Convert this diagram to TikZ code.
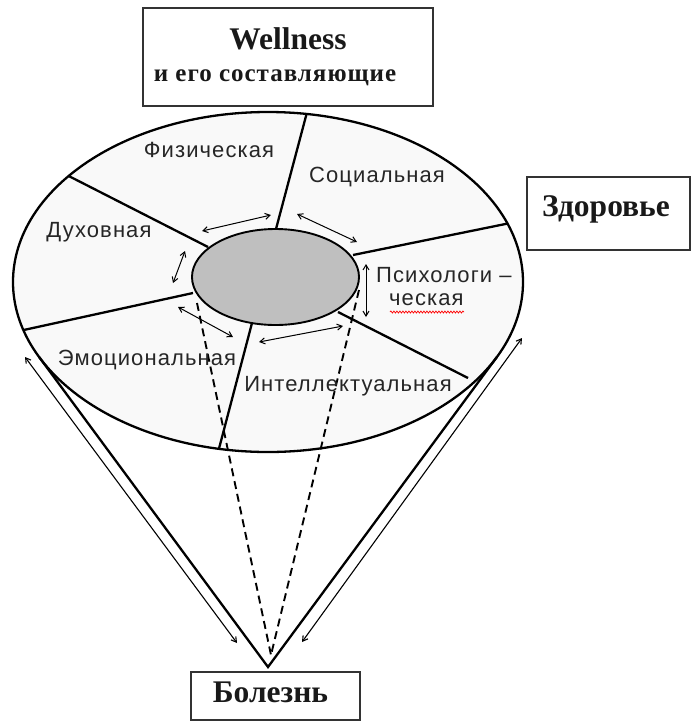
\documentclass[tikz,border=0pt]{standalone}
\usepackage{fontspec}
\setmainfont{Liberation Serif}
\setsansfont{Liberation Sans}[LetterSpace=5]
\usetikzlibrary{shapes.geometric,arrows.meta,decorations.pathmorphing}
\begin{document}
\begin{tikzpicture}[x=1pt,y=-1pt,
  lbl/.style={font=\sffamily\fontsize{22}{22}\selectfont, text=black!85, inner sep=0pt},
  boxed/.style={draw=black!80, line width=1.8pt, fill=white, inner sep=0pt},
  boxtext/.style={font=\bfseries\fontsize{31.5}{31.5}\selectfont, text=black!90, inner sep=0pt},
  divline/.style={line width=2.3pt},
  tip/.tip={Straight Barb[length=5pt,width=6pt]},
  link/.style={line width=1pt, tip-tip},
  longlink/.style={line width=1.1pt, tip-tip},
  dashline/.style={line width=1.9pt, dash pattern=on 8pt off 5pt},
]
\useasboundingbox (0,0) rectangle (691,721);

% boxes
\node[boxed, minimum width=290pt, minimum height=98pt] (topbox) at (288,57) {};
\node[boxtext] (wl) at (288,39) {Wellness};
\node[boxtext, font=\bfseries\fontsize{25}{25}\selectfont\addfontfeature{LetterSpace=4}] (comp) at (275,78) {и его составляющие};
\node[boxed, minimum width=163pt, minimum height=73pt] (hbox) at (608.5,213.5) {};
\node[boxtext] (health) at (606,209) {Здоровье};
\node[boxed, minimum width=169pt, minimum height=48pt] (ibox) at (275.5,696) {};
\node[boxtext] (illness) at (270.5,692) {Болезнь};

% outer ellipse
\node[ellipse, draw, line width=2.3pt, fill=gray!5, minimum width=510pt, minimum height=340pt, inner sep=0pt] (outer) at (268,282) {};

% radial dividers
\coordinate (i1) at (276,229); \coordinate (o1) at (310,101);
\coordinate (i2) at (208,247); \coordinate (o2) at (55,169);
\coordinate (i3) at (193,293); \coordinate (o3) at (10,333);
\coordinate (i4) at (252,323); \coordinate (o4) at (216,460);
\coordinate (i5) at (338,312); \coordinate (o5) at (468,378);
\coordinate (i6) at (353,255); \coordinate (o6) at (530,219);
\begin{scope}
\clip (268,282) ellipse [x radius=255, y radius=170];
\foreach \k in {1,...,6} \draw[divline] (i\k) -- (o\k);
\end{scope}

% cone
\coordinate (apex) at (268,667);
\coordinate (dapex) at (271,655);
\coordinate (tl) at (39.2,357.1);
\coordinate (tr) at (496.8,357.1);
\draw[divline, line join=miter] (tl) -- (apex) -- (tr);

% dashed lines
\coordinate (dl) at (197,303);
\coordinate (dr) at (359,290);
\draw[dashline] (dl) -- (dapex);
\draw[dashline] (dr) -- (dapex);

% core
\node[ellipse, draw, line width=1.9pt, fill=gray!50, minimum width=167pt, minimum height=96pt, inner sep=0pt] (core) at (275.5,277) {};

% long arrows
\coordinate (la1) at (25,357); \coordinate (la2) at (237,643);
\coordinate (ra1) at (302,642); \coordinate (ra2) at (522,338);
\draw[longlink] (la1) -- (la2);
\draw[longlink] (ra1) -- (ra2);

% small links
\coordinate (a1) at (202,231); \coordinate (b1) at (271,215);
\coordinate (a2) at (297,214); \coordinate (b2) at (357,242);
\coordinate (a3) at (185,251); \coordinate (b3) at (173,283);
\coordinate (a4) at (366,264); \coordinate (b4) at (366,317);
\coordinate (a5) at (178,307); \coordinate (b5) at (233,337);
\coordinate (a6) at (259,342); \coordinate (b6) at (343,326);
\foreach \k in {1,...,6} \draw[link] (a\k) -- (b\k);

% labels
\node[lbl] (phys) at (209,150) {Физическая};
\node[lbl] (soc) at (377,177) {Социальная};
\node[lbl] (spir) at (99,232) {Духовная};
\node[lbl, anchor=west] (psy1) at (376,275) {Психологи –};
\node[lbl, anchor=west] (psy2) at (389,300) {ческая};
\node[lbl] (emo) at (147,360) {Эмоциональная};
\node[lbl] (intel) at (348,386) {Интеллектуальная};
\coordinate (w1) at (390,312); \coordinate (w2) at (464,312);
\draw[red, line width=0.7pt, decorate, decoration={snake, segment length=3pt, amplitude=1pt}] (w1) -- (w2);
\end{tikzpicture}
\end{document}
